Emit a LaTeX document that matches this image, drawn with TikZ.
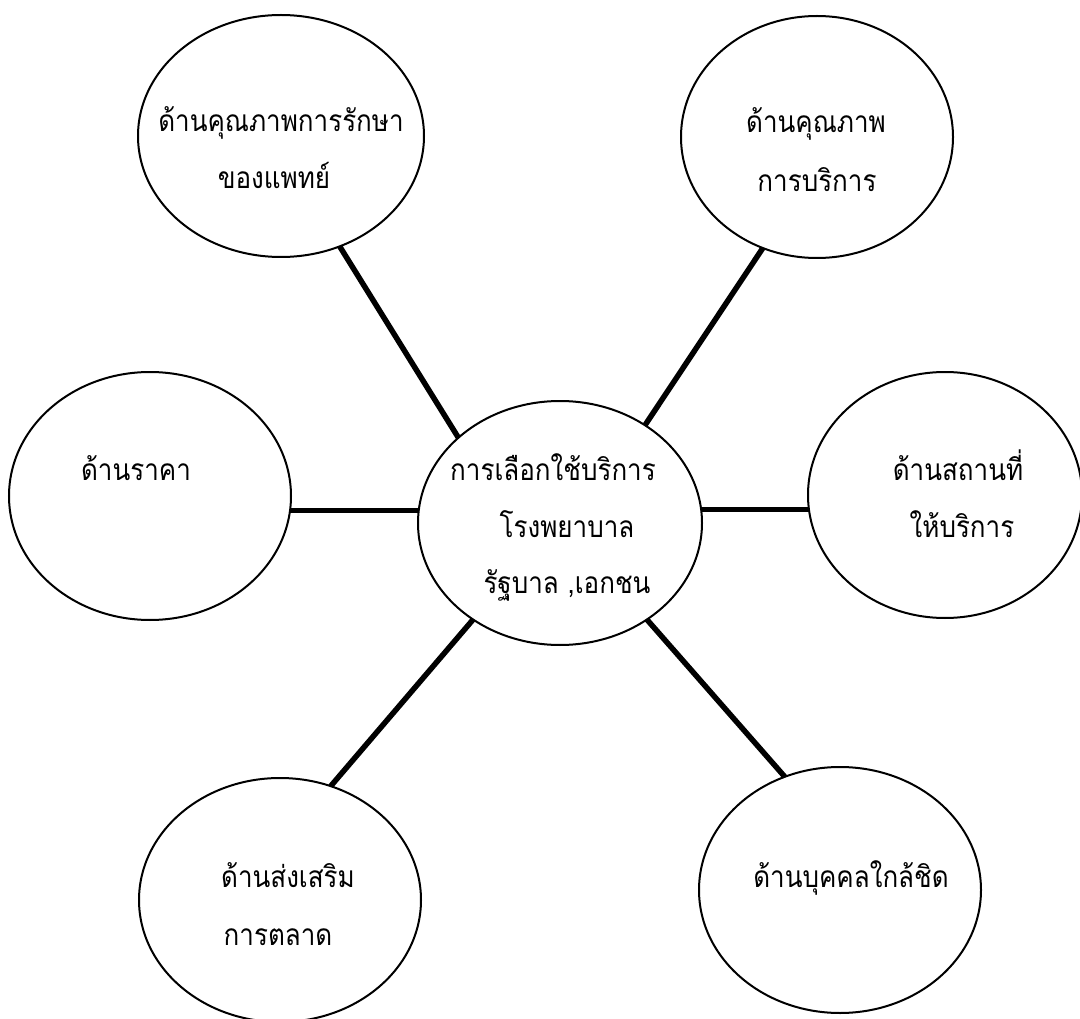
\documentclass[tikz,border=0pt]{standalone}
\usepackage{fontspec}
\newfontfamily\thaifont[Script=Thai]{Loma}
\usetikzlibrary{shapes.geometric}
\newcommand{\tallthai}[1]{\scalebox{1}[1.15]{#1}}
\tikzset{
  bubble/.style={draw, ellipse, line width=2pt, inner sep=0pt, outer sep=0pt, fill=white},
  conn/.style={line width=5.5pt},
  lbl/.style={anchor=base, inner sep=0pt, font=\thaifont\fontsize{26}{32}\selectfont}
}
\begin{document}
\begin{tikzpicture}[x=1pt,y=-1pt]
\useasboundingbox[fill=white] (0,0) rectangle (1080,1019);
% ellipses
\node[bubble, minimum width=286pt, minimum height=242pt] (tl) at (281,136) {};
\node[bubble, minimum width=272pt, minimum height=242pt] (tr) at (817,137) {};
\node[bubble, minimum width=282pt, minimum height=248pt] (l)  at (150,496) {};
\node[bubble, minimum width=284pt, minimum height=244pt] (c)  at (560,523) {};
\node[bubble, minimum width=274pt, minimum height=246pt] (r)  at (945,495) {};
\node[bubble, minimum width=282pt, minimum height=244pt] (bl) at (280,900) {};
\node[bubble, minimum width=282pt, minimum height=246pt] (br) at (840,890) {};
% connectors
\draw[conn] (tl.-62.6) -- (c.140.9);
\draw[conn] (tr.-116) -- (c.49.9);
\draw[conn] (l.-6.1) -- (l.-6.1 -| c.west);
\draw[conn] (r.186.7) -- (r.186.7 -| c.east);
\draw[conn] (c.-132.2) -- (bl.66.5);
\draw[conn] (c.-48.2) -- (br.116);
% texts
\node[lbl] (tl1) at (281,132) {\tallthai{ด้านคุณภาพการรักษา}};
\node[lbl] (tl2) at (274,189) {\tallthai{ของแพทย์}};
\node[lbl] (tr1) at (816,133) {\tallthai{ด้านคุณภาพ}};
\node[lbl] (tr2) at (817,192) {\tallthai{การบริการ}};
\node[lbl] (l1)  at (136,480) {\tallthai{ด้านราคา}};
\node[lbl] (c1)  at (553,480) {\tallthai{การเลือกใช้บริการ}};
\node[lbl] (c2)  at (567,537) {\tallthai{โรงพยาบาล}};
\node[lbl] (c3)  at (567,593) {\tallthai{รัฐบาล ,เอกชน}};
\node[lbl] (r1)  at (958,480) {\tallthai{ด้านสถานที่}};
\node[lbl] (r2)  at (962,537) {\tallthai{ให้บริการ}};
\node[lbl] (bl1) at (288,887) {\tallthai{ด้านส่งเสริม}};
\node[lbl] (bl2) at (278,945) {\tallthai{การตลาด}};
\node[lbl] (br1) at (851,887) {\tallthai{ด้านบุคคลใกล้ชิด}};
\end{tikzpicture}
\end{document}
